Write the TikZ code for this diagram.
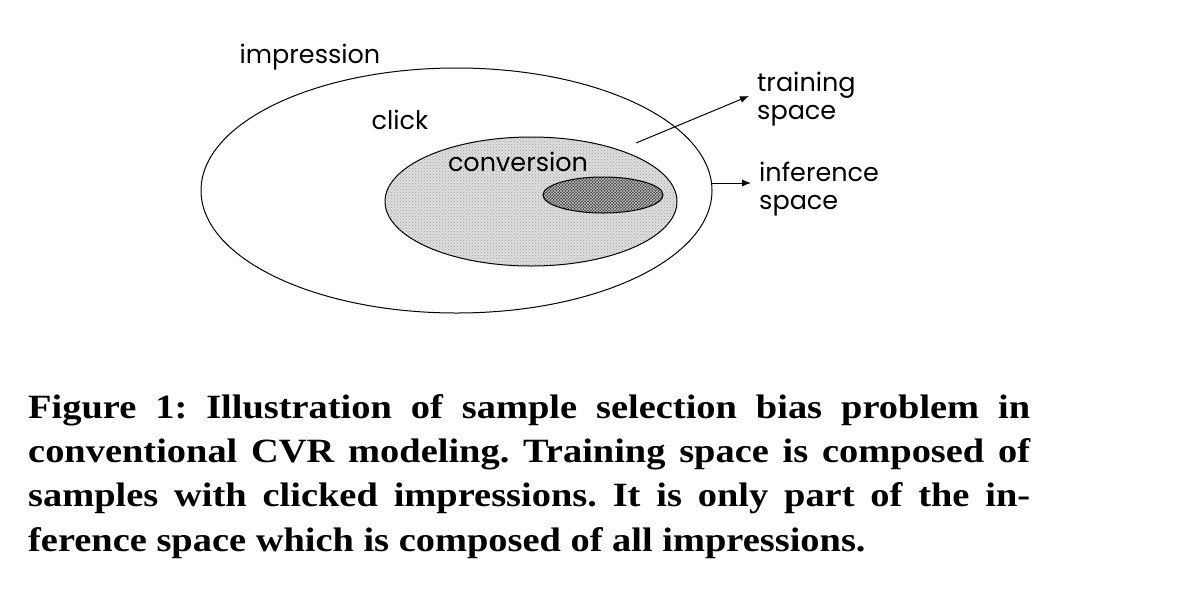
\documentclass[tikz,border=0pt]{standalone}
\usepackage{fontspec}
\setmainfont[FakeStretch=1.13]{Liberation Serif}
\newfontfamily\gothic{Poppins}
\usetikzlibrary{patterns,arrows.meta}
\begin{document}
\begin{tikzpicture}[x=1pt,y=-1pt,
  lbl/.style={font=\gothic\fontsize{25.5}{28}\selectfont, inner sep=0pt, align=left},
  ring/.style={draw=black, line width=1pt},
  arr/.style={-{Latex[length=9pt,width=7pt]}, line width=1pt}]
\useasboundingbox (0,0) rectangle (1194,614);
\fill[white] (0,0) rectangle (1194,614);
% outer ellipse
\draw[ring] (456.5,190.5) ellipse [x radius=255.5, y radius=122.5];
% click ellipse
\fill[gray!25] (531,201.5) ellipse [x radius=146, y radius=64.5];
\fill[pattern=crosshatch dots, pattern color=gray!75] (531,201.5) ellipse [x radius=146, y radius=64.5];
\draw[ring] (531,201.5) ellipse [x radius=146, y radius=64.5];
% conversion ellipse
\fill[black!75] (603,195) ellipse [x radius=60, y radius=18];
\fill[pattern=crosshatch, pattern color=gray!45] (603,195) ellipse [x radius=60, y radius=18];
\draw[ring] (603,195) ellipse [x radius=60, y radius=18];
% labels
\node[lbl] (imp) at (310,57) {impression};
\node[lbl] (clk) at (400,120) {click};
\node[lbl] (conv) at (518,162) {conversion};
\node[lbl, anchor=west] (train) at (757,99) {training\\space};
\node[lbl, anchor=west] (inf) at (759,189) {inference\\space};
\coordinate (tstart) at (636,143);
\coordinate (tend) at (749,96);
\coordinate (istart) at (712,183);
\coordinate (iend) at (751,183);
\draw[arr] (tstart) -- (tend);
\draw[arr] (istart) -- (iend);
% caption
\node[anchor=north west, inner sep=0pt, text width=1002pt, align=justify,
  font=\bfseries\fontsize{34}{44.3}\selectfont\frenchspacing] (cap) at (28,394)
  {Figure 1: Illustration of sample selection bias problem in\linebreak
   conventional CVR modeling. Training space is composed of\linebreak
   samples with clicked impressions. It is only part of the in-\linebreak
   ference space which is composed of all impressions.};
\end{tikzpicture}
\end{document}
